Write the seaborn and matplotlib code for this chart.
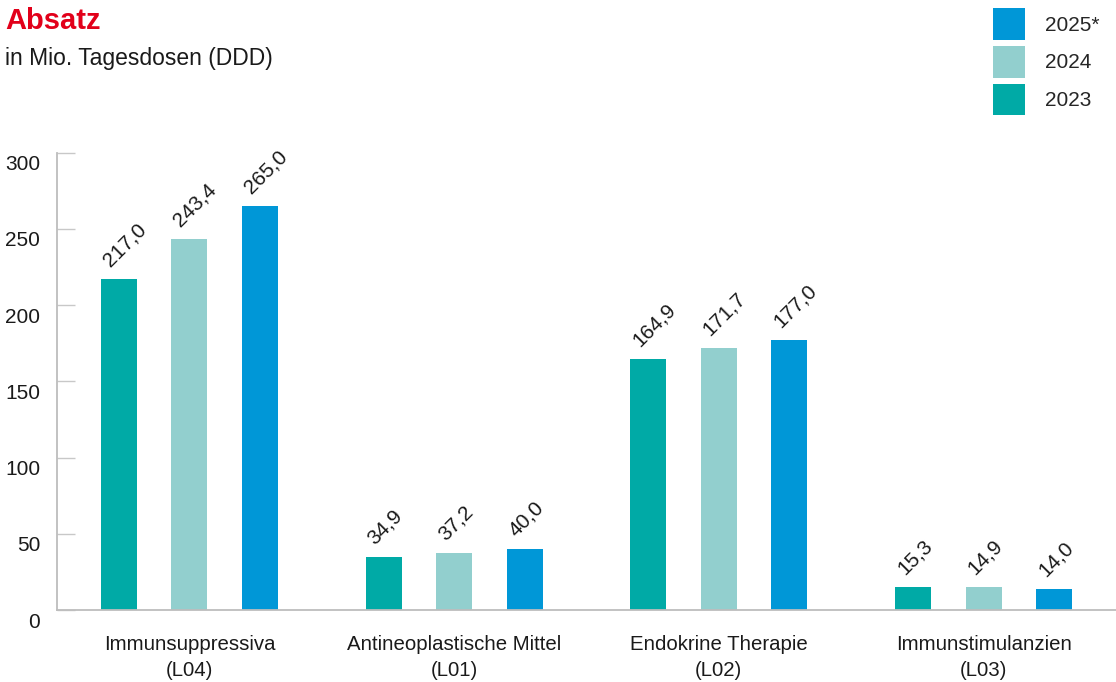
import pandas as pd
import seaborn as sns
import matplotlib.pyplot as plt
import matplotlib.transforms as mtransforms
from matplotlib.patches import Patch

# Daten
kategorien = ["Immunsuppressiva\n(L04)", "Antineoplastische Mittel\n(L01)",
              "Endokrine Therapie\n(L02)", "Immunstimulanzien\n(L03)"]
jahre = ["2023", "2024", "2025*"]
werte_2023 = [217.0, 34.9, 164.9, 15.3]
werte_2024 = [243.4, 37.2, 171.7, 14.9]
werte_2025 = [265.0, 40.0, 177.0, 14.0]
farben = ["#00aaa6", "#92cfce", "#0097d7"]

df = pd.DataFrame({
    "kategorie": kategorien * 3,
    "jahr": [jahre[0]] * 4 + [jahre[1]] * 4 + [jahre[2]] * 4,
    "wert": werte_2023 + werte_2024 + werte_2025,
})

sns.set_style("white")
plt.rcParams["font.family"] = ["Liberation Sans", "DejaVu Sans"]

fig = plt.figure(figsize=(11.16, 6.82), dpi=100)
ax = fig.add_axes([57 / 1116, 1 - 610 / 682, (1116 - 57) / 1116, (610 - 152.7) / 682])

sns.barplot(data=df, x="kategorie", y="wert", hue="jahr", hue_order=jahre,
            palette=farben, width=0.8, gap=0.49, ax=ax, legend=False,
            linewidth=0, saturation=1)

# Werte über den Balken
for cont in ax.containers:
    for bar in cont:
        h = bar.get_height()
        xc = bar.get_x() + bar.get_width() / 2
        ax.annotate(f"{h:.1f}".replace(".", ","), xy=(xc, h),
                    xytext=(-6, 9), textcoords="offset pixels",
                    rotation=45, rotation_mode="anchor",
                    ha="left", va="bottom", fontsize=15, color="#1a1a1a")

ax.set_xlim(-0.5, 3.5)
ax.set_ylim(0, 300)
ax.set_yticks(range(0, 301, 50))
ax.set_xlabel("")
ax.set_ylabel("")

for s in ["top", "right"]:
    ax.spines[s].set_visible(False)
for s in ["left", "bottom"]:
    ax.spines[s].set_color("#bdbdbd")
    ax.spines[s].set_linewidth(1.3)

ax.tick_params(axis="y", left=True, direction="in", length=13, width=1.0,
               color="#c8c8c8", labelsize=15, labelcolor="#1a1a1a", pad=12)
ax.tick_params(axis="x", bottom=False, length=0, labelsize=14.7,
               labelcolor="#1a1a1a", pad=18)
off = mtransforms.ScaledTranslation(0, -10 / 100, fig.dpi_scale_trans)
for lab in ax.get_yticklabels():
    lab.set_transform(lab.get_transform() + off)
for lab in ax.get_xticklabels():
    lab.set_linespacing(1.45)

# Titel
fig.text(5 / 1116, 1 - 21 / 682, "Absatz", color="#e2001a", fontsize=21,
         fontweight="bold", va="center", ha="left")
fig.text(5 / 1116, 1 - 58 / 682, "in Mio. Tagesdosen (DDD)", color="#1a1a1a",
         fontsize=16.5, va="center", ha="left")

# Legende
handles = [Patch(facecolor=farben[i], edgecolor="none") for i in [2, 1, 0]]
fig.legend(handles, ["2025*", "2024", "2023"], loc="upper left",
           bbox_to_anchor=(985 / 1116, 1 - 0 / 682), frameon=False,
           fontsize=15, handlelength=1.5, handleheight=1.95,
           labelspacing=0.3, handletextpad=1.0, borderaxespad=0)

fig.savefig("out.png", dpi=100)
